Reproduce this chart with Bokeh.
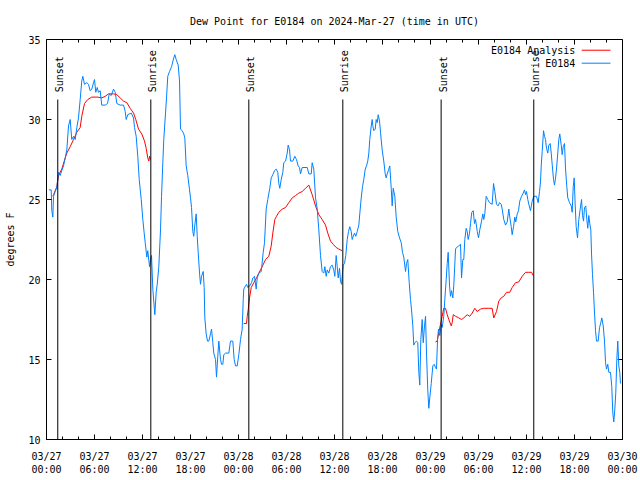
import math
from bokeh.plotting import figure
from bokeh.models import Range1d, FixedTicker, ColumnDataSource
from bokeh.core.properties import value
from bokeh.embed import file_html
from bokeh.resources import INLINE

FONT = "DejaVu Sans Mono"

title_text = "Dew Point for E0184 on 2024-Mar-27 (time in UTC)"
y_label = "degrees F"

x_tick_hours = [0, 6, 12, 18, 24, 30, 36, 42, 48, 54, 60, 66, 72]
x_tick_labels = ["03/27\n00:00", "03/27\n06:00", "03/27\n12:00", "03/27\n18:00",
                 "03/28\n00:00", "03/28\n06:00", "03/28\n12:00", "03/28\n18:00",
                 "03/29\n00:00", "03/29\n06:00", "03/29\n12:00", "03/29\n18:00",
                 "03/30\n00:00"]
y_ticks = [10, 15, 20, 25, 30, 35]

sun_hours = [1.41, 13.04, 25.29, 37.04, 49.33, 60.91]
sun_labels = ["Sunset", "Sunrise", "Sunset", "Sunrise", "Sunset", "Sunrise"]

series_names = ["E0184 Analysis", "E0184"]

# Observations (E0184), hours since 03/27 00:00 UTC
obs_hours = [
    0.29, 0.59, 0.66, 0.79, 0.88, 1.09, 1.29, 1.50, 1.71, 1.91, 2.13, 2.34, 2.54, 2.75, 2.96,
    3.16, 3.38, 3.59, 3.79, 4.00, 4.21, 4.41, 4.54, 4.75, 5.04, 5.25, 5.46, 5.66, 5.88, 6.00,
    6.16, 6.34, 6.50, 6.71, 6.91, 7.34, 7.63, 7.84, 8.09, 8.38, 8.59, 8.79, 9.21, 9.63, 9.84,
    9.96, 10.16, 10.59, 10.88, 11.00, 11.21, 11.41, 11.59, 11.84, 12.04, 12.21, 12.34, 12.54, 12.66, 12.88,
    13.00, 13.13, 13.29, 13.54, 13.71, 13.84, 14.04, 14.25, 14.38, 14.54, 14.66, 14.88, 15.00, 15.16, 15.38,
    15.63, 15.91, 16.04, 16.21, 16.46, 16.63, 16.75, 16.96, 17.16, 17.29, 17.46, 17.66, 17.88, 18.00, 18.13,
    18.29, 18.41, 18.54, 18.71, 18.84, 18.96, 19.13, 19.25, 19.38, 19.59, 19.71, 19.79, 19.96, 20.13, 20.29,
    20.50, 20.63, 20.79, 20.91, 21.13, 21.25, 21.41, 21.54, 21.75, 21.88, 22.04, 22.16, 22.38, 22.79, 23.00,
    23.29, 23.46, 23.63, 23.84, 24.04, 24.25, 24.46, 24.59, 24.66, 24.88, 25.00, 25.16, 25.41, 25.63, 25.79,
    26.00, 26.21, 26.34, 26.54, 26.84, 27.09, 27.25, 27.46, 27.66, 27.91, 28.09, 28.29, 28.50, 28.71, 28.91,
    29.04, 29.16, 29.34, 29.54, 29.66, 29.88, 30.09, 30.21, 30.38, 30.50, 30.79, 31.04, 31.25, 31.46, 31.63,
    31.75, 31.96, 32.59, 32.79, 33.09, 33.21, 33.41, 33.63, 33.84, 34.04, 34.25, 34.46, 34.66, 34.79, 34.96,
    35.09, 35.29, 35.50, 35.71, 35.91, 36.04, 36.21, 36.34, 36.46, 36.63, 36.75, 36.88, 37.09, 37.25, 37.41,
    37.59, 37.75, 37.91, 38.09, 38.21, 38.34, 38.50, 38.66, 38.84, 39.04, 39.16, 39.34, 39.50, 39.66, 39.84,
    40.00, 40.16, 40.29, 40.41, 40.59, 40.71, 40.79, 40.91, 41.09, 41.21, 41.34, 41.46, 41.63, 41.75, 41.96,
    42.16, 42.34, 42.46, 42.59, 42.79, 42.91, 43.09, 43.21, 43.34, 43.54, 43.71, 43.91, 44.13, 44.34, 44.50,
    44.66, 44.88, 45.00, 45.16, 45.34, 45.50, 45.63, 45.79, 45.91, 46.04, 46.25, 46.41, 46.54, 46.66, 46.79,
    46.96, 47.09, 47.25, 47.38, 47.50, 47.66, 47.79, 47.91, 48.09, 48.29, 48.46, 48.63, 48.75, 48.88, 49.00,
    49.16, 49.34, 49.46, 49.66, 49.79, 49.96, 50.09, 50.21, 50.38, 50.50, 50.63, 50.79, 50.91, 51.13, 51.25,
    51.54, 51.75, 51.88, 52.04, 52.16, 52.29, 52.46, 52.59, 52.71, 52.88, 53.00, 53.16, 53.34, 53.50, 53.63,
    53.84, 54.00, 54.16, 54.38, 54.54, 54.66, 54.79, 54.96, 55.16, 55.38, 55.71, 55.88, 56.04, 56.25, 56.46,
    56.63, 56.84, 56.96, 57.16, 57.38, 57.59, 57.79, 57.91, 58.09, 58.21, 58.38, 58.54, 58.66, 58.84, 59.00,
    59.16, 59.38, 59.59, 59.75, 59.88, 60.00, 60.16, 60.34, 60.50, 60.71, 60.91, 61.25, 61.46, 61.63, 61.75,
    61.84, 61.96, 62.13, 62.25, 62.38, 62.50, 62.66, 62.79, 62.96, 63.09, 63.21, 63.38, 63.50, 63.63, 63.75,
    63.91, 64.04, 64.16, 64.34, 64.46, 64.59, 64.75, 64.88, 65.04, 65.16, 65.38, 65.59, 65.71, 65.84, 65.96,
    66.09, 66.21, 66.38, 66.54, 66.71, 66.88, 67.00, 67.13, 67.25, 67.41, 67.54, 67.66, 67.79, 67.91, 68.04,
    68.13, 68.25, 68.38, 68.50, 68.63, 68.75, 68.96, 69.13, 69.29, 69.41, 69.59, 69.75, 69.88, 70.00, 70.16,
    70.29, 70.50, 70.66, 70.79, 70.91, 71.04, 71.16, 71.29, 71.41, 71.54, 71.66, 71.75,
]
obs_dewpt = [
    25.6, 25.6, 24.3, 23.9, 25.2, 25.5, 25.75, 26.7, 26.5, 26.8, 27.1, 27.6, 28.1, 29.6, 30.0,
    28.75, 28.95, 28.75, 29.5, 30.1, 31.25, 32.4, 32.7, 32.2, 32.3, 32.2, 31.8, 31.9, 32.3, 32.5,
    31.7, 32.0, 31.7, 31.8, 30.9, 30.9, 31.0, 31.6, 31.5, 31.9, 31.7, 31.0, 30.9, 30.9, 30.5,
    30.0, 30.3, 30.4, 30.1, 29.5, 28.95, 27.7, 26.25, 25.0, 23.75, 22.9, 22.3, 21.4, 21.8, 20.8,
    21.25, 21.5, 19.4, 17.8, 19.2, 19.7, 20.8, 23.1, 25.2, 27.3, 28.75, 30.4, 31.35, 32.7, 33.0,
    33.3, 33.85, 34.05, 33.75, 33.4, 32.4, 29.4, 29.3, 29.1, 28.85, 27.1, 26.5, 25.6, 25.1, 24.5,
    23.0, 22.7, 23.4, 24.1, 22.7, 21.7, 20.4, 19.7, 20.2, 20.5, 19.5, 17.6, 16.6, 16.15, 16.15,
    16.6, 16.9, 16.05, 15.4, 15.0, 13.9, 15.2, 16.15, 15.0, 14.7, 14.7, 15.3, 15.4, 15.4, 16.15,
    16.15, 15.0, 14.6, 14.6, 15.3, 16.25, 16.9, 18.75, 19.4, 19.6, 19.7, 19.5, 19.6, 19.8, 20.1,
    20.2, 19.4, 20.1, 20.4, 20.5, 21.7, 22.3, 24.4, 25.0, 25.7, 26.35, 26.55, 26.8, 26.9, 26.7,
    26.0, 25.7, 26.25, 26.7, 27.3, 27.4, 27.9, 28.4, 28.1, 27.4, 27.4, 27.7, 27.5, 27.1, 27.0,
    26.6, 27.0, 27.0, 26.6, 26.6, 27.3, 26.9, 25.1, 24.4, 23.1, 21.5, 20.5, 20.4, 20.8, 20.2,
    20.6, 20.4, 20.8, 20.9, 20.6, 20.2, 21.5, 20.8, 20.1, 20.7, 19.9, 19.7, 20.9, 21.0, 21.5,
    22.5, 23.0, 23.3, 23.0, 22.5, 22.7, 22.9, 22.7, 23.0, 23.4, 24.1, 25.1, 25.8, 26.25, 26.9,
    27.1, 27.4, 27.9, 28.75, 29.6, 30.0, 29.6, 29.3, 29.4, 30.0, 29.8, 30.3, 29.9, 29.2, 28.1,
    27.4, 26.6, 26.35, 26.6, 26.9, 27.1, 25.7, 24.6, 25.7, 25.2, 23.9, 23.0, 22.6, 22.3, 21.7,
    21.4, 20.5, 21.0, 21.25, 19.8, 18.75, 18.1, 17.1, 15.9, 16.05, 16.15, 16.05, 14.2, 13.4, 16.25,
    17.5, 16.05, 17.1, 17.7, 15.4, 13.1, 11.95, 12.6, 13.5, 14.6, 14.7, 14.5, 14.4, 16.25, 16.9,
    16.5, 17.2, 17.0, 17.7, 18.75, 20.0, 21.0, 21.7, 19.6, 18.95, 19.3, 18.85, 19.6, 21.9, 22.0,
    22.1, 22.2, 20.1, 21.25, 21.25, 22.5, 23.2, 23.0, 22.5, 22.9, 23.5, 24.2, 24.3, 23.5, 23.75,
    23.0, 22.6, 23.1, 23.65, 24.1, 23.75, 24.1, 25.2, 25.0, 24.8, 24.7, 26.0, 25.5, 24.7, 24.6,
    24.8, 24.7, 24.4, 23.75, 23.4, 23.6, 24.4, 23.9, 23.3, 22.8, 23.3, 23.9, 23.6, 24.1, 24.3,
    24.9, 25.2, 25.4, 25.6, 25.3, 25.5, 25.0, 24.6, 24.3, 24.9, 25.2, 25.2, 24.8, 25.5, 26.1,
    27.1, 28.0, 29.3, 28.95, 28.75, 28.2, 27.9, 28.4, 28.5, 27.9, 27.2, 26.25, 25.9, 26.35, 26.9,
    27.9, 28.75, 29.1, 28.4, 27.8, 28.3, 28.5, 26.9, 25.8, 25.1, 24.8, 24.6, 24.2, 25.8, 26.35,
    24.6, 23.3, 22.6, 23.75, 24.4, 25.0, 24.0, 23.65, 24.5, 24.6, 23.75, 23.2, 24.0, 23.5, 23.1,
    21.6, 20.3, 19.2, 17.9, 16.8, 16.15, 16.15, 17.0, 17.3, 17.6, 17.1, 16.15, 14.8, 14.4, 14.7,
    14.2, 14.2, 13.3, 11.65, 11.1, 11.9, 12.9, 15.0, 16.15, 14.6, 14.2, 13.5,
]

# Analysis (E0184 Analysis), three separate runs
ana1_hours = [0.79, 0.88, 1.29, 1.50, 1.91, 2.34, 2.54, 2.96, 3.38, 3.79, 4.21, 4.41, 4.75, 5.16, 5.66,
              6.41, 6.91, 7.34, 7.75, 8.38, 8.79, 9.21, 9.63, 10.04, 10.46, 10.88, 11.16, 11.50, 11.91, 12.25,
              12.46, 12.66, 12.79, 12.88, 13.00]
ana1_dewpt = [25.2, 25.3, 25.8, 26.5, 26.9, 27.6, 27.9, 28.3, 28.75, 29.2, 29.5, 30.2, 31.0, 31.25, 31.4,
              31.4, 31.35, 31.45, 31.6, 31.6, 31.55, 31.35, 31.15, 31.05, 30.7, 30.4, 30.0, 29.4, 29.1, 28.65,
              28.2, 27.6, 27.4, 27.7, 27.5]
ana2_hours = [24.66, 25.00, 25.09, 25.21, 25.38, 25.59, 25.91, 26.25, 26.54, 26.96, 27.38, 27.79, 28.09, 28.29, 28.54,
              28.75, 29.04, 29.46, 29.88, 30.29, 30.71, 31.13, 31.54, 31.96, 32.38, 32.79, 33.21, 33.63, 34.04, 34.46,
              34.88, 35.16, 35.50, 35.84, 36.21, 36.54, 36.96]
ana2_dewpt = [17.25, 17.25, 17.7, 18.1, 18.85, 19.5, 19.8, 20.1, 20.4, 20.8, 21.25, 21.45, 22.1, 22.9, 23.75,
              23.95, 24.2, 24.4, 24.5, 24.8, 25.1, 25.25, 25.4, 25.5, 25.7, 25.9, 25.3, 24.6, 24.05, 23.75,
              23.4, 22.9, 22.4, 22.2, 22.0, 21.9, 21.8]
ana3_hours = [48.63, 48.84, 49.04, 49.25, 49.46, 49.66, 49.88, 50.09, 50.29, 50.59, 50.71, 50.84, 51.13, 51.54, 51.88,
              52.16, 52.59, 52.91, 53.21, 53.54, 53.84, 54.25, 54.66, 55.29, 55.71, 55.91, 56.25, 56.54, 56.84, 57.16,
              57.50, 57.91, 58.21, 58.63, 59.04, 59.46, 59.88, 60.29, 60.63, 60.84]
ana3_dewpt = [16.1, 16.15, 16.7, 17.2, 17.7, 18.2, 18.2, 17.8, 17.5, 17.1, 17.3, 17.8, 17.7, 17.6, 17.5,
              17.6, 17.8, 17.7, 17.9, 18.2, 18.0, 18.15, 18.2, 18.2, 18.2, 17.6, 18.0, 18.65, 18.85, 18.95,
              19.2, 19.2, 19.5, 19.8, 19.85, 20.2, 20.45, 20.45, 20.45, 20.25]

RED = "#ff0000"
BLUE = "#0080ff"

X0, X1, Y0, Y1 = 0, 72, 10, 35

p = figure(width=640, height=480, x_range=Range1d(X0, X1), y_range=Range1d(Y0, Y1),
           output_backend="svg", toolbar_location=None, title=title_text,
           min_border_left=46, min_border_right=18, min_border_top=39, min_border_bottom=41)
p.background_fill_color = "white"
p.border_fill_color = "white"
p.outline_line_color = "black"
p.outline_line_width = 1
p.xgrid.visible = False
p.ygrid.visible = False

p.title.align = "center"
p.title.text_font = FONT
p.title.text_font_size = "10px"
p.title.text_font_style = "normal"
p.title.text_color = "black"
p.title.standoff = 25

minor_x = list(range(0, 73, 2))


def style_axis(ax):
    ax.axis_line_color = "black"
    ax.major_tick_line_color = "black"
    ax.minor_tick_line_color = "black"
    ax.major_tick_in = 5
    ax.major_tick_out = 0
    ax.minor_tick_in = 3
    ax.minor_tick_out = 0
    ax.major_label_text_font = FONT
    ax.major_label_text_color = "black"
    ax.major_label_text_font_size = "10px"


xa = p.xaxis[0]
xa.ticker = FixedTicker(ticks=x_tick_hours, minor_ticks=minor_x)
xa.major_label_overrides = {h: lab for h, lab in zip(x_tick_hours, x_tick_labels)}
style_axis(xa)
xa.major_label_standoff = 11
xa.major_label_text_line_height = 1.2

ya = p.yaxis[0]
ya.ticker = FixedTicker(ticks=y_ticks, minor_ticks=[])
style_axis(ya)
ya.major_label_standoff = 6
ya.axis_label = y_label
ya.axis_label_text_font = FONT
ya.axis_label_text_font_size = "10px"
ya.axis_label_text_font_style = "normal"
ya.axis_label_text_color = "black"
ya.axis_label_standoff = 9

# mirrored inward ticks on top and right edges (gnuplot style)
maj_len_x, min_len_x = 5 / 16.0, 3 / 16.0   # in degrees F (16 px per degree)
maj_len_y = 5 / 8.0                         # in hours (8 px per hour)
p.segment(x0=x_tick_hours, y0=[Y1] * len(x_tick_hours), x1=x_tick_hours,
          y1=[Y1 - maj_len_x] * len(x_tick_hours), line_color="black", line_width=1)
p.segment(x0=minor_x, y0=[Y1] * len(minor_x), x1=minor_x,
          y1=[Y1 - min_len_x] * len(minor_x), line_color="black", line_width=1)
p.segment(x0=[X1] * len(y_ticks), y0=y_ticks, x1=[X1 - maj_len_y] * len(y_ticks),
          y1=y_ticks, line_color="black", line_width=1)

# analysis first, observations on top
for hh, vv in [(ana1_hours, ana1_dewpt), (ana2_hours, ana2_dewpt), (ana3_hours, ana3_dewpt)]:
    p.line(hh, vv, line_color=RED, line_width=1)
p.line(obs_hours, obs_dewpt, line_color=BLUE, line_width=1)

# sunrise / sunset markers
sun_src = ColumnDataSource(dict(x=sun_hours, label=sun_labels))
p.segment(x0="x", y0=Y0, x1="x", y1=31.25, source=sun_src, line_color="black", line_width=1)
p.text(x="x", y=31.7, text="label", source=sun_src, angle=math.pi / 2,
       text_font=value(FONT), text_font_size="10px", text_color="black",
       text_align="left", text_baseline="alphabetic", x_offset=2)

# key (gnuplot style: label then sample line)
key_y = [34.33, 33.52]
key_colors = [RED, BLUE]
p.text(x=[66.1, 66.1], y=key_y, text=series_names, text_font=value(FONT), text_font_size="10px",
       text_color="black", text_align="right", text_baseline="middle")
p.segment(x0=[66.9, 66.9], y0=key_y, x1=[70.5, 70.5], y1=key_y, line_color=key_colors, line_width=1)

open("out.html", "w").write(file_html(p, INLINE))
